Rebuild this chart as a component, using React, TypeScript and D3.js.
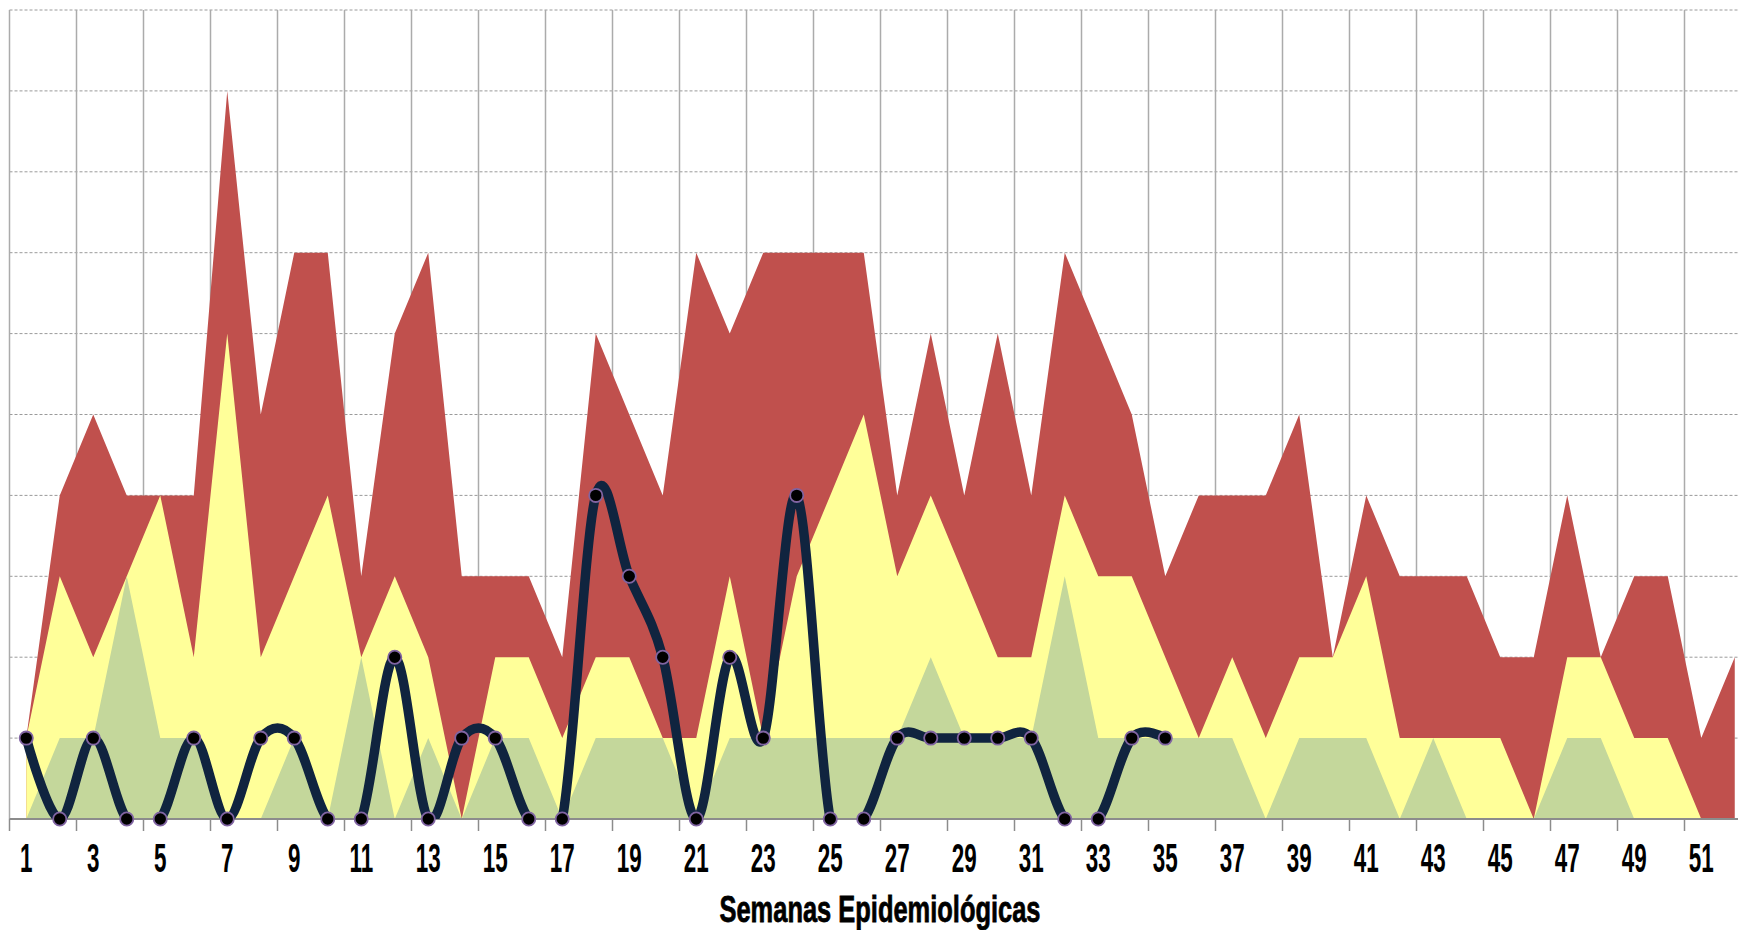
import React from "react"
import * as d3 from "d3"

// weeks on the x axis
const weeks = [
  1, 2, 3, 4, 5, 6, 7, 8, 9, 10, 11, 12, 13, 14, 15, 16, 17, 18, 19, 20, 21, 22, 23, 24, 25, 26,
  27, 28, 29, 30, 31, 32, 33, 34, 35, 36, 37, 38, 39, 40, 41, 42, 43, 44, 45, 46, 47, 48, 49, 50,
  51, 52,
]
const tickWeeks = [1, 3, 5, 7, 9, 11, 13, 15, 17, 19, 21, 23, 25, 27, 29, 31, 33, 35, 37, 39, 41, 43, 45, 47, 49, 51]

// zone tops (alarm / security / success)
const alarm = [
  1, 4, 5, 4, 4, 4, 9, 5, 7, 7, 3, 6, 7, 3, 3, 3, 2, 6, 5, 4, 7, 6, 7, 7, 7, 7, 4, 6, 4, 6, 4, 7, 6,
  5, 3, 4, 4, 4, 5, 2, 4, 3, 3, 3, 2, 2, 4, 2, 3, 3, 1, 2,
]
const security = [
  1, 3, 2, 3, 4, 2, 6, 2, 3, 4, 2, 3, 2, 0, 2, 2, 1, 2, 2, 1, 1, 3, 1, 3, 4, 5, 3, 4, 3, 2, 2, 4, 3,
  3, 2, 1, 2, 1, 2, 2, 3, 1, 1, 1, 1, 0, 2, 2, 1, 1, 0, 0,
]
const success = [
  0, 1, 1, 3, 1, 1, 0, 0, 1, 0, 2, 0, 1, 0, 1, 1, 0, 1, 1, 1, 0, 1, 1, 1, 1, 1, 1, 2, 1, 1, 1, 3, 1,
  1, 1, 1, 1, 0, 1, 1, 1, 0, 1, 0, 0, 0, 1, 1, 0, 0, 0, 0,
]
// reported cases, weeks 1..35
const cases = [
  1, 0, 1, 0, 0, 1, 0, 1, 1, 0, 0, 2, 0, 1, 1, 0, 0, 4, 3, 2, 0, 2, 1, 4, 0, 0, 1, 1, 1, 1, 1, 0, 0,
  1, 1,
]
const yTicks = [1, 2, 3, 4, 5, 6, 7, 8, 9, 10]

const W = 1738
const H = 930
const left = 9.5
const band = 33.5
const top = 10
const bottom = 819

export default function App() {
  const x = d3
    .scaleBand<number>()
    .domain(weeks)
    .range([left, left + band * weeks.length])
    .padding(0)
  const cx = (w: number) => x(w)! + x.bandwidth() / 2
  const y = d3.scaleLinear().domain([0, 10]).range([bottom, top])

  const area = d3
    .area<number>()
    .x((d, i) => cx(weeks[i]))
    .y0(y(0))
    .y1((d) => y(d))

  // excel-like smoothing
  const line = d3
    .line<number>()
    .x((d, i) => cx(weeks[i]))
    .y((d) => y(d))
    .curve(d3.curveCardinal.tension(0))

  // gridlines every two weeks (band edges)
  const vEdges = weeks.filter((w) => w % 2 === 1).map((w) => x(w)!)
  const right = left + band * weeks.length

  return (
    <svg
      width={W}
      height={H}
      style={{ position: "absolute", left: 0, top: 0, background: "#fff" }}
    >
      <defs>
        <clipPath id="plot">
          <rect x={left} y={top} width={right - left} height={bottom - top} />
        </clipPath>
      </defs>

      {yTicks.map((t) => (
        <line
          key={"h" + t}
          x1={left}
          x2={right}
          y1={y(t)}
          y2={y(t)}
          stroke="#9a9a9a"
          strokeWidth={1}
          strokeDasharray="3 2"
        />
      ))}
      {vEdges.map((v, i) => (
        <line
          key={"v" + i}
          x1={v}
          x2={v}
          y1={top}
          y2={bottom}
          stroke="#ababab"
          strokeWidth={1.5}
        />
      ))}

      <path d={area(alarm)!} fill="#C0504D" />
      <path d={area(security)!} fill="#FFFF99" />
      <path d={area(success)!} fill="#C4D79B" />

      <line x1={left} x2={right} y1={bottom} y2={bottom} stroke="#8c8c8c" strokeWidth={2} />
      {vEdges.map((v, i) => (
        <line key={"t" + i} x1={v} x2={v} y1={bottom} y2={bottom + 12} stroke="#8c8c8c" strokeWidth={1.5} />
      ))}

      <path
        d={line(cases)!}
        fill="none"
        stroke="#10243F"
        strokeWidth={9.5}
        clipPath="url(#plot)"
      />
      {cases.map((c, i) => (
        <circle
          key={"m" + i}
          cx={cx(weeks[i])}
          cy={y(c)}
          r={6.6}
          fill="#000"
          stroke="#8064A2"
          strokeWidth={1.8}
        />
      ))}

      {tickWeeks.map((w) => (
        <text
          key={"l" + w}
          transform={`translate(${cx(w)},872) scale(0.56,1)`}
          textAnchor="middle"
          fontFamily="'Liberation Sans', Arial, sans-serif"
          fontWeight="bold"
          fontSize={40}
          fill="#000"
        >
          {w}
        </text>
      ))}

      <text
        x={880}
        y={922}
        textAnchor="middle"
        fontFamily="'Liberation Sans', Arial, sans-serif"
        fontWeight="bold"
        fontSize={37}
        textLength={321}
        lengthAdjust="spacingAndGlyphs"
        fill="#000"
        stroke="#000"
        strokeWidth={0.8}
      >
        Semanas Epidemiológicas
      </text>
    </svg>
  )
}
